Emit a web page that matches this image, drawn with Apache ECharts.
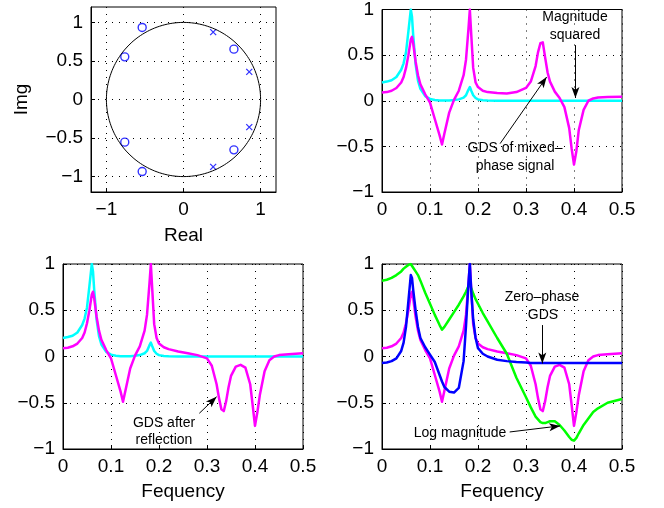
<!DOCTYPE html>
<html>
<head>
<meta charset="utf-8">
<script src="https://cdn.jsdelivr.net/npm/echarts@6/dist/echarts.min.js"></script>
<style>
  html, body { margin: 0; padding: 0; background: #fff; }
  #chart { width: 664px; height: 508px; }
</style>
</head>
<body>
<div id="chart"></div>
<script>
// frequency grid shared by all GDS curves (denser around the resonances)
const freq = [
  0, 0.01, 0.02, 0.03, 0.04, 0.045, 0.05, 0.055, 0.06, 0.0625,
  0.065, 0.07, 0.075, 0.08, 0.09, 0.1, 0.11, 0.12, 0.125, 0.13,
  0.14, 0.15, 0.16, 0.17, 0.175, 0.18, 0.183, 0.186, 0.19, 0.195,
  0.2, 0.21, 0.22, 0.24, 0.26, 0.28, 0.3, 0.31, 0.32, 0.325,
  0.33, 0.335, 0.34, 0.345, 0.35, 0.36, 0.37, 0.38, 0.39, 0.395,
  0.4, 0.405, 0.41, 0.42, 0.43, 0.44, 0.45, 0.47, 0.5
]
const magSquared = [
  0.2, 0.21, 0.225, 0.26, 0.34, 0.41, 0.53, 0.76, 1.0, 0.92,
  0.72, 0.4, 0.22, 0.13, 0.05, 0.02, 0.008, 0.003, 0.002, 0.002,
  0.004, 0.008, 0.015, 0.035, 0.06, 0.12, 0.15, 0.11, 0.06, 0.03,
  0.015, 0.006, 0.003, 0, 0, 0, 0, 0, 0, 0,
  0, 0, 0, 0, 0, 0, 0, 0, 0, 0,
  0, 0, 0, 0, 0, 0, 0, 0, 0
]
const gdsMixed = [
  0.09, 0.095, 0.11, 0.14, 0.2, 0.26, 0.36, 0.5, 0.67, 0.7,
  0.63, 0.43, 0.28, 0.18, 0.07, -0.02, -0.2, -0.38, -0.48, -0.36,
  -0.13, 0.01, 0.11, 0.28, 0.45, 0.78, 1.0, 0.72, 0.36, 0.2,
  0.15, 0.11, 0.095, 0.085, 0.08, 0.095, 0.14, 0.21, 0.38, 0.53,
  0.63, 0.64, 0.47, 0.31, 0.21, 0.1, 0.03, -0.07, -0.3, -0.52,
  -0.7, -0.55, -0.32, -0.1, 0, 0.025, 0.035, 0.042, 0.045
]
const gdsReflected = [
  0.09, 0.095, 0.11, 0.14, 0.2, 0.26, 0.36, 0.5, 0.67, 0.7,
  0.63, 0.43, 0.28, 0.18, 0.07, -0.02, -0.2, -0.38, -0.49, -0.37,
  -0.13, 0.01, 0.11, 0.28, 0.45, 0.78, 1.0, 0.72, 0.35, 0.2,
  0.14, 0.1, 0.08, 0.055, 0.035, 0.015, -0.02, -0.1, -0.3, -0.45,
  -0.57, -0.59, -0.48, -0.33, -0.21, -0.11, -0.09, -0.12, -0.3, -0.52,
  -0.75, -0.6, -0.42, -0.16, -0.04, 0, 0.015, 0.025, 0.035
]
const gdsZeroPhase = [
  -0.07, -0.065, -0.05, -0.02, 0.06, 0.15, 0.32, 0.6, 0.88, 0.85,
  0.72, 0.5, 0.32, 0.2, 0.1, 0.02, -0.06, -0.2, -0.27, -0.33,
  -0.38, -0.39, -0.34, -0.05, 0.33, 0.78, 1.0, 0.7, 0.4, 0.2,
  0.09, 0.03, 0, -0.035, -0.05, -0.06, -0.065, -0.07, -0.07, -0.07,
  -0.07, -0.07, -0.07, -0.07, -0.07, -0.07, -0.07, -0.07, -0.07, -0.07,
  -0.07, -0.07, -0.07, -0.07, -0.07, -0.07, -0.07, -0.07, -0.07
]
const logMagnitude = [
  0.82, 0.83, 0.85, 0.88, 0.92, 0.95, 0.97, 0.99, 1.0, 0.99,
  0.96, 0.92, 0.88, 0.82, 0.69, 0.57, 0.45, 0.34, 0.29, 0.32,
  0.4, 0.48, 0.56, 0.65, 0.7, 0.76, 0.79, 0.74, 0.68, 0.62,
  0.57, 0.47, 0.38, 0.2, 0.03, -0.23, -0.44, -0.55, -0.65, -0.68,
  -0.71, -0.72, -0.72, -0.71, -0.7, -0.7, -0.74, -0.8, -0.87, -0.9,
  -0.91, -0.88, -0.83, -0.74, -0.67, -0.6, -0.56, -0.5, -0.46
]

// pole-zero locations [real, imag]
const zeros = [
  [-0.536, 0.935], [-0.762, 0.553], [0.654, 0.653],
  [-0.536, -0.935], [-0.762, -0.553], [0.654, -0.653]
]
const poles = [
  [0.385, 0.874], [0.853, 0.358],
  [0.385, -0.874], [0.853, -0.358]
]

const realTicks = [-1, 0, 1]
const imagTicks = [-1, -0.5, 0, 0.5, 1]
const freqTicks = [0, 0.1, 0.2, 0.3, 0.4, 0.5]
const gdsTicks = [-1, -0.5, 0, 0.5, 1]

// unit circle reference
const unitCircle = []
for (let a = 0; a <= 360; a += 2) {
  const t = a * Math.PI / 180
  unitCircle.push([Math.cos(t), Math.sin(t)])
}

const FONT = 'Liberation Sans, Arial, Helvetica, sans-serif'
const CYAN = '#00ffff'
const MAGENTA = '#ff00ff'
const BLUE = '#0000ff'
const GREEN = '#00ff00'

const pair = (xs, ys) => xs.map((x, i) => [x, ys[i]])
const minus = (v) => String(v).replace('-', '\u2212')

function axis(gridIndex, min, max, ticks, extra) {
  return Object.assign({
    type: 'value',
    gridIndex,
    min,
    max,
    axisLine: { onZero: false, lineStyle: { color: '#000', width: 1 } },
    axisTick: { inside: true, length: 4, customValues: ticks, lineStyle: { color: '#000' } },
    axisLabel: { customValues: ticks, formatter: minus, color: '#000', fontSize: 19, fontFamily: FONT, margin: 8 },
    splitLine: { show: true, lineStyle: { color: '#000', type: [1, 6], width: 1 } },
    nameTextStyle: { color: '#000', fontSize: 19, fontFamily: FONT },
  }, extra)
}

function curve(idx, ys, color) {
  return {
    type: 'line',
    xAxisIndex: idx,
    yAxisIndex: idx,
    data: pair(freq, ys),
    showSymbol: false,
    lineStyle: { color, width: 2.5, join: 'round' },
    silent: true,
  }
}

function arrows(list) {
  return {
    silent: true,
    symbol: ['none', 'arrow'],
    symbolSize: [6, 11],
    label: { show: false },
    lineStyle: { color: '#000', width: 1, type: 'solid' },
    data: list.map(([a, b]) => [{ coord: a }, { coord: b }]),
  }
}

function note(text, x, y) {
  return {
    type: 'text',
    x, y,
    style: { text, fill: '#000', font: '14px ' + FONT, align: 'center', verticalAlign: 'middle' },
  }
}

const chart = echarts.init(document.getElementById('chart'))

const gridBox = { show: true, borderColor: '#000', borderWidth: 1, backgroundColor: 'transparent' }

const topRightMixed = curve(1, gdsMixed, MAGENTA)
topRightMixed.markLine = arrows([
  [[0.403, 0.61], [0.403, 0.03]],
  [[0.246, -0.47], [0.343, 0.26]],
])
const bottomLeftRefl = curve(2, gdsReflected, MAGENTA)
bottomLeftRefl.markLine = arrows([
  [[0.284, -0.614], [0.32, -0.435]],
])
const bottomRightZero = curve(3, gdsZeroPhase, BLUE)
bottomRightZero.markLine = arrows([
  [[0.334, 0.34], [0.334, -0.075]],
  [[0.266, -0.816], [0.371, -0.75]],
])

chart.setOption({
  animation: false,
  backgroundColor: '#fff',
  grid: [
    Object.assign({ left: 91, top: 7, width: 185, height: 185 }, gridBox),
    Object.assign({ left: 382, top: 6, width: 240, height: 186 }, gridBox),
    Object.assign({ left: 63, top: 264, width: 240, height: 185 }, gridBox),
    Object.assign({ left: 382, top: 264, width: 240, height: 185 }, gridBox),
  ],
  xAxis: [
    axis(0, -1.2, 1.2, realTicks, { name: 'Real', nameLocation: 'middle', nameGap: 34 }),
    axis(1, 0, 0.5, freqTicks),
    axis(2, 0, 0.5, freqTicks, { name: 'Fequency', nameLocation: 'middle', nameGap: 33 }),
    axis(3, 0, 0.5, freqTicks, { name: 'Fequency', nameLocation: 'middle', nameGap: 33 }),
  ],
  yAxis: [
    axis(0, -1.2, 1.2, imagTicks, { name: 'Img', nameLocation: 'middle', nameGap: 60 }),
    axis(1, -1, 1, gdsTicks),
    axis(2, -1, 1, gdsTicks),
    axis(3, -1, 1, gdsTicks),
  ],
  series: [
    {
      type: 'line', xAxisIndex: 0, yAxisIndex: 0, data: unitCircle,
      showSymbol: false, silent: true, lineStyle: { color: '#000', width: 1 },
    },
    {
      type: 'scatter', xAxisIndex: 0, yAxisIndex: 0, data: zeros,
      symbol: 'circle', symbolSize: 8, silent: true,
      itemStyle: { color: 'transparent', borderColor: BLUE, borderWidth: 1.4 },
    },
    {
      type: 'scatter', xAxisIndex: 0, yAxisIndex: 0, data: poles,
      symbol: 'path://M0,0L10,10M0,10L10,0', symbolSize: 6, silent: true,
      itemStyle: { color: 'transparent', borderColor: BLUE, borderWidth: 1.3 },
    },
    curve(1, magSquared, CYAN),
    topRightMixed,
    curve(2, magSquared, CYAN),
    bottomLeftRefl,
    curve(3, gdsReflected, MAGENTA),
    curve(3, logMagnitude, GREEN),
    bottomRightZero,
  ],
  graphic: [
    note('Magnitude', 575, 17),
    note('squared', 575, 35),
    note('GDS of mixed\u2013', 515, 148),
    note('phase signal', 515, 166),
    note('GDS after', 164, 423),
    note('reflection', 164, 440),
    note('Zero\u2013phase', 542, 297),
    note('GDS', 543, 315),
    note('Log magnitude', 460, 433),
  ],
})
</script>
</body>
</html>
